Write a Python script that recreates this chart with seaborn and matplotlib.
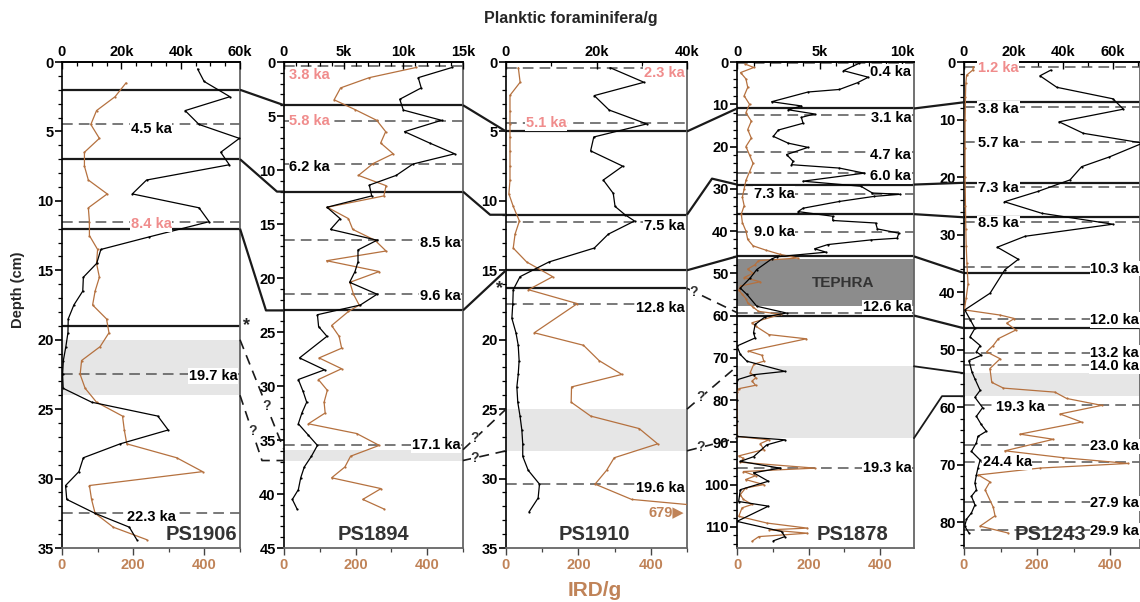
import numpy as np
import pandas as pd
import matplotlib
matplotlib.use("Agg")
import matplotlib.pyplot as plt
from matplotlib.lines import Line2D
from matplotlib.ticker import MultipleLocator, FuncFormatter
import seaborn as sns

# ---- data ----
cores = ['PS1906', 'PS1894', 'PS1910', 'PS1878', 'PS1243']

# planktic foraminifera / g (top axis) and IRD / g (bottom axis), vs depth (cm)
ps1906_foram_depth = [0.5, 1.4, 2.5, 3.5, 4.5, 5.5, 6.5, 7.4, 8.5, 9.5, 10.5, 11.5, 12.6, 13.5, 14.5, 15.5,
                      16.5, 17.5, 18.5, 19.5, 20.5, 21.5, 22.5, 23.5, 24.5, 25.5, 26.5, 27.5, 28.5, 29.5,
                      30.5, 31.5, 32.5, 33.5, 34.4]
ps1906_foram = [45700, 47900, 56600, 41500, 46200, 59800, 53500, 56400, 28500, 23700, 46200, 49600, 29300,
                13100, 11700, 7200, 7000, 4000, 2100, 2000, 1300, 450, 200, 400, 10000, 32300, 35800, 19600,
                7200, 5700, 1200, 1600, 11100, 22700, 25200]
ps1906_ird_depth = [1.5, 2.5, 3.5, 4.5, 5.5, 6.5, 7.5, 8.5, 9.5, 10.5, 11.5, 12.5, 13.5, 14.5, 15.5, 16.5,
                    17.5, 18.5, 19.5, 20.5, 21.5, 22.5, 23.5, 24.5, 25.5, 26.5, 27.5, 28.5, 29.5, 30.5,
                    31.5, 32.5, 33.5, 34.4]
ps1906_ird = [180, 149, 97, 81, 105, 63, 63, 74, 127, 74, 77, 77, 100, 97, 105, 93, 86, 125, 132, 107, 55,
              51, 65, 97, 170, 175, 182, 322, 395, 77, 83, 93, 144, 238]

ps1894_foram_depth = [0.5, 1.45, 2.4, 3.45, 4.45, 5.4, 6.45, 7.5, 8.5, 9.45, 10.5, 11.4, 12.4, 13.45, 14.5,
                      15.5, 16.5, 17.4, 18.5, 19.4, 20.4, 21.5, 22.5, 23.4, 24.5, 25.4, 27.4, 28.5, 29.4,
                      30.5, 31.5, 32.5, 33.5, 34.5, 35.5, 36.5, 37.5, 38.5, 39.6, 40.5, 41.4]
ps1894_foram = [14100, 11250, 11500, 9700, 10000, 13200, 10100, 12200, 14300, 10800, 9400, 7150, 7350, 3600,
                4700, 3900, 7800, 6200, 6200, 5950, 5500, 7800, 6400, 2800, 2900, 3600, 1300, 3400, 1200,
                1600, 1900, 1500, 1200, 2000, 2800, 2300, 1700, 1400, 1200, 700, 1100]
ps1894_ird_depth = [0.5, 1.45, 2.4, 3.5, 4.4, 5.4, 6.45, 7.5, 8.5, 9.4, 10.5, 11.45, 12.4, 13.45, 14.5, 15.5,
                    16.5, 17.5, 18.4, 19.4, 20.4, 21.5, 22.5, 23.1, 24.4, 25.4, 26.5, 27.4, 28.4, 29.4,
                    30.4, 31.5, 32.5, 33.5, 34.4, 35.5, 36.5, 37.5, 38.5, 39.5, 40.5, 41.4]
ps1894_ird = [370, 238, 158, 140, 198, 259, 284, 270, 305, 249, 208, 285, 279, 121, 180, 192, 254, 285, 119,
              266, 184, 194, 210, 180, 133, 154, 161, 98, 161, 96, 121, 112, 115, 68, 203, 266, 186, 170,
              133, 271, 220, 280]

ps1910_foram_depth = [0.41, 1.46, 2.42, 3.46, 4.46, 5.4, 6.4, 7.5, 8.5, 9.46, 10.4, 11.0, 11.45, 12.4, 13.4,
                      14.4, 15.46, 16.4, 17.4, 18.46, 19.5, 20.4, 21.5, 22.5, 23.4, 24.5, 25.5, 26.5, 27.5,
                      28.4, 29.4, 30.4, 31.4, 32.4]
ps1910_foram = [23000, 30500, 19500, 22800, 31100, 19400, 18700, 25800, 21500, 23700, 24100, 26300, 28400,
                22600, 19500, 9500, 3100, 1600, 1500, 1300, 2200, 2700, 2900, 2700, 2400, 2600, 3100, 3500,
                3700, 3700, 4900, 7400, 7100, 5100]
ps1910_ird_depth = [0.4, 1.46, 2.4, 3.5, 4.46, 5.4, 6.4, 7.5, 8.5, 9.5, 10.4, 11.45, 12.4, 13.4, 14.4, 15.46,
                    16.4, 17.4, 19.5, 20.4, 21.5, 22.5, 23.4, 24.5, 25.5, 26.4, 27.5, 28.5, 29.4, 30.4,
                    31.5, 32.3]
ps1910_ird = [34, 39, 11, 11, 11, 11, 11, 11, 11, 8, 20, 37, 25, 20, 57, 129, 62, 197, 78, 214, 257, 320,
              181, 180, 234, 368, 419, 299, 278, 246, 347, 679]

ps1878_foram_depth = [0.3, 2.05, 3.6, 4.9, 6.5, 7.1, 9.4, 10.4, 11.3, 12.3, 13.1, 14.5, 16.1, 17.6, 19.2,
                      20.2, 21.9, 23.5, 24.3, 25.1, 26.3, 28.2, 29.4, 31.0, 31.3, 31.8, 33.0, 34.6, 35.4,
                      36.5, 37.5, 38.1, 39.5, 40.5, 41.7, 42.1, 43.2, 44.2, 45.0, 46.1, 46.6, 49.1, 51.1,
                      53.5, 55.0, 57.8, 59.4, 60.3, 62.1, 64.1, 65.3, 67.2, 69.2, 70.8, 73.2, 74.0, 75.2,
                      80.0, 85.0, 88.6, 89.4, 90.6, 93.4, 94.5, 96.1, 97.2, 99.2, 101.2, 104.0, 105.1,
                      108.7, 111.1, 112.3, 113.3]
ps1878_foram = [7400, 6450, 7950, 7300, 6200, 4300, 2100, 3900, 3100, 4700, 3900, 4000, 2500, 2200, 3100,
                4300, 3000, 3400, 3300, 6200, 7700, 4000, 7500, 8200, 9900, 8300, 6200, 4000, 3700, 5800,
                5800, 8400, 8500, 9800, 9700, 8100, 5500, 4700, 5400, 2400, 2100, 1200, 800, 200, 600,
                1200, 3000, 1700, 1100, 1000, 1100, 0, 200, 600, 2900, 1000, 0, 0, 0, 0, 2900, 1800,
                1000, 200, 2600, 1000, 1900, 200, 100, 1900, 0, 2700, 2900, 2200]
ps1878_ird_depth = [0.5, 1.3, 2.5, 4, 6, 8, 10, 12, 14, 16, 18, 20, 22, 24, 26, 28, 30, 32, 34, 36, 38, 40,
                    42, 43.5, 44.5, 45.5, 46.4, 47, 48, 49, 50, 51, 52, 53, 54, 55, 56, 57, 58, 59, 59.7,
                    61.7, 62.5, 64.5, 65.5, 68.4, 69.4, 70.8, 71.5, 73.5, 74.7, 75.5, 76.5, 77.3, 78.2,
                    88.6, 89.4, 90.3, 91.7, 93.2, 93.8, 94.7, 96.1, 96.9, 97.9, 98.8, 100.0, 100.8, 102.4,
                    103.5, 104.7, 105.5, 107.5, 109.1, 110.3, 110.7, 111.5, 112.3, 113.4]
ps1878_ird = [23, 47, 10, 25, 30, 20, 35, 25, 40, 30, 40, 25, 35, 45, 35, 25, 20, 15, 20, 12, 15, 25, 30,
              45, 80, 120, 170, 60, 50, 30, 45, 20, 65, 10, 5, 15, 25, 30, 45, 60, 123, 42, 52, 89, 194,
              32, 70, 75, 47, 37, 53, 42, 52, 5, 0, 0, 89, 65, 75, 5, 18, 9, 218, 18, 52, 24, 75, 24, 9,
              18, 42, 14, 5, 84, 197, 90, 197, 61, 42]

ps1243_foram_depth = [1.4, 2.4, 4.4, 6.4, 8.2, 10.4, 12.4, 14.1, 16.5, 18.2, 20.5, 22.5, 24.3, 26.3, 28.2,
                      30.3, 32.2, 34.3, 36.1, 40.2, 43.1, 44.8, 46.3, 47.8, 49.3, 50.4, 51.0, 51.9, 53.9,
                      55.1, 57.1, 58.3, 60.1, 61.6, 63.0, 64.2, 65.1, 66.2, 67.7, 69.2, 70.6, 71.8, 73.2,
                      74.4, 75.5, 77.0, 78.4, 79.5, 80.7, 81.9]
ps1243_foram = [35000, 30600, 37400, 60000, 64200, 38300, 48100, 72000, 58600, 47400, 42700, 29800, 16300,
                31300, 60000, 24600, 13400, 21900, 16500, 10500, 300, 2500, 4400, 2400, 6500, 5000, 7000,
                2000, 3200, 4400, 6500, 4400, 7500, 5000, 6900, 9000, 5600, 5000, 3000, 6500, 5600, 5000,
                4400, 5000, 3000, 4400, 3000, 1000, 300, 2000]
ps1243_ird_depth = [0.8, 1.4, 2.3, 3.7, 6, 10, 15, 20, 25, 29, 32, 35, 38.6, 41, 43.1, 44.0, 44.6, 45.4,
                    46.6, 48.1, 49.3, 50.4, 51.6, 53.3, 55.7, 56.7, 57.4, 58.5, 59.7, 61.2, 62.6, 64.7,
                    65.6, 67.6, 68.8, 69.8, 70.6, 71.8, 73.0, 74.4, 77.4, 78.9, 80.7, 81.9]
ps1243_ird = [26, 24, 7, 5, 4, 3, 3, 3, 4, 5, 6, 8, 11, 6, 1, 99, 138, 117, 142, 94, 80, 62, 99, 71, 76,
              108, 249, 281, 377, 263, 322, 153, 245, 112, 272, 450, 208, 39, 71, 58, 80, 85, 44, 121]

foram_depths = [ps1906_foram_depth, ps1894_foram_depth, ps1910_foram_depth, ps1878_foram_depth, ps1243_foram_depth]
foram_vals = [ps1906_foram, ps1894_foram, ps1910_foram, ps1878_foram, ps1243_foram]
ird_depths = [ps1906_ird_depth, ps1894_ird_depth, ps1910_ird_depth, ps1878_ird_depth, ps1243_ird_depth]
ird_vals = [ps1906_ird, ps1894_ird, ps1910_ird, ps1878_ird, ps1243_ird]

# age tie points (depth, label)
age_depths = [[4.5, 11.5, 22.5, 32.5],
              [0.4, 5.45, 9.45, 16.5, 21.5, 35.5],
              [0.4, 4.4, 11.5, 17.4, 30.4],
              [0.3, 12.5, 21.4, 26.3, 31.2, 40.2, 59.4, 96.0],
              [0.8, 7.9, 13.9, 21.7, 27.8, 35.7, 44.6, 50.6, 52.6, 59.7, 66.6, 69.6, 76.5, 81.3]]
age_labels = [['4.5 ka', '8.4 ka', '19.7 ka', '22.3 ka'],
              ['3.8 ka', '5.8 ka', '6.2 ka', '8.5 ka', '9.6 ka', '17.1 ka'],
              ['2.3 ka', '5.1 ka', '7.5 ka', '12.8 ka', '19.6 ka'],
              ['0.4 ka', '3.1 ka', '4.7 ka', '6.0 ka', '7.3 ka', '9.0 ka', '12.6 ka', '19.3 ka'],
              ['1.2 ka', '3.8 ka', '5.7 ka', '7.3 ka', '8.5 ka', '10.3 ka', '12.0 ka', '13.2 ka', '14.0 ka',
               '19.3 ka', '23.0 ka', '24.4 ka', '27.9 ka', '29.9 ka']]

# grey intervals (depth from, to)
grey_bands = [[(20, 24)], [(35.9, 36.9)], [(25, 28)], [(72, 89)], [(54.1, 58.1)]]
tephra = (46.6, 57.8)

# correlation lines: chains of (core index, depth)
tie_chains = [[(0, 2), (1, 4), (2, 5), (3, 11), (4, 7)],
              [(0, 7), (1, 12), (2, 11), (3, 29), (4, 21)],
              [(0, 12), (1, 23), (2, 15), (3, 46), (4, 36.7)],
              [(0, 19)], [(2, 16.3)],
              [(3, 36), (4, 27)],
              [(3, 60), (4, 46.3)]]
band_links = [[(3, 72), (4, 54.1)], [(3, 89), (4, 58.1)]]
uncertain_links = [[(0, 20), (1, 35.9)], [(0, 24), (1, 36.9)],
                   [(1, 35.9), (2, 25)], [(1, 36.9), (2, 28)],
                   [(2, 16.3), (3, 59.3)], [(2, 25), (3, 72)], [(2, 28), (3, 89)]]

# ---- style / layout ----
sns.set_theme(style="white")
plt.rcParams['font.family'] = ['Liberation Sans', 'DejaVu Sans']
plt.rcParams['font.weight'] = 'bold'
plt.rcParams['axes.labelweight'] = 'bold'

BROWN = '#b5713f'
BROWN_TXT = '#c08358'
SALMON = '#f08c8c'
GRID = '#555555'

W, H = 1140, 602
panel_px = [(62, 240), (284, 463), (506, 687), (737, 914), (964, 1140)]
top_px, bot_px = 62, 548
depth_max = [35, 45, 35, 115, 84.5]
foram_max = [60000, 15000, 40000, 10720, 70900]
ird_max = [500, 500, 500, 495, 482]
foram_major = [20000, 5000, 20000, 5000, 20000]
foram_minor = [5000, 1000, 10000, 1000, 10000]
depth_major = [5, 5, 5, 10, 10]
depth_minor = [1, 1, 1, 2, 2]

salmon_ages = {0: ['8.4 ka'], 1: ['3.8 ka', '5.8 ka'], 2: ['2.3 ka', '5.1 ka'], 4: ['1.2 ka']}
# label placement: (x in axes fraction, ha, vertical offset in points)
age_place = [[(0.5, 'center', -3), (0.5, 'center', -2), (0.985, 'right', -1), (0.5, 'center', -3)],
             [(0.03, 'left', -6), (0.03, 'left', 0), (0.03, 'left', -2), (0.985, 'right', -2),
              (0.985, 'right', -1), (0.985, 'right', 0)],
             [(0.985, 'right', -4), (0.22, 'center', 0), (0.985, 'right', -3), (0.985, 'right', -3),
              (0.985, 'right', -3)],
             [(0.985, 'right', -6), (0.985, 'right', -2), (0.985, 'right', -2), (0.985, 'right', -2),
              (0.21, 'center', 0), (0.21, 'center', 0), (0.985, 'right', 4), (0.985, 'right', 0)],
             [(0.08, 'left', -1), (0.08, 'left', -1), (0.08, 'left', -1), (0.08, 'left', -1),
              (0.08, 'left', -1), (0.995, 'right', -1), (0.995, 'right', -1), (0.995, 'right', 0),
              (0.995, 'right', -1), (0.32, 'center', -1), (0.995, 'right', -1), (0.245, 'center', 0),
              (0.995, 'right', -1), (0.995, 'right', -1)]]
name_place = [(0.985, 'right'), (0.5, 'center'), (0.49, 'center'), (0.65, 'center'), (0.49, 'center')]
# bends in connectors: (left core, left depth) -> (fraction of gap, depth in right core)
bends = {(0, 7): (0.84, 12), (0, 12): (0.59, 23), (1, 12): (0.63, 11), (2, 11): (0.5, 27.6),
         (3, 89): (0.56, 58.1), (0, 24): (0.5, 36.9)}
# where the '?' sits along the first segment of each uncertain link
q_frac = [0.6, 0.55, 0.28, 0.28, 0.14, 0.28, 0.28]


def kfmt(v, _):
    return '0' if v == 0 else f'{v / 1000:g}k'


fig = plt.figure(figsize=(W / 100, H / 100), dpi=100)
axes = []
for i, core in enumerate(cores):
    x0, x1 = panel_px[i]
    ax = fig.add_axes([x0 / W, 1 - bot_px / H, (x1 - x0) / W, (bot_px - top_px) / H])
    axt = ax.twiny()

    for d0, d1 in grey_bands[i]:
        ax.axhspan(d0, d1, color='#e6e6e6', lw=0, zorder=0)
    if core == 'PS1878':
        ax.axhspan(*tephra, color='#8c8c8c', lw=0, zorder=0.5)
        ax.text(0.6, np.mean(tephra), 'TEPHRA', transform=ax.get_yaxis_transform(),
                ha='center', va='center', fontsize=11, color='#333333', zorder=1)

    ird = pd.DataFrame({'depth': ird_depths[i], 'ird': ird_vals[i]})
    sns.lineplot(data=ird, x='ird', y='depth', ax=ax, orient='y', sort=False, estimator=None,
                 color=BROWN, lw=0.9, marker='o', markersize=1.6, markeredgewidth=0, zorder=3)
    fg = pd.DataFrame({'depth': foram_depths[i], 'foram': foram_vals[i]})
    sns.lineplot(data=fg, x='foram', y='depth', ax=axt, orient='y', sort=False, estimator=None,
                 color='black', lw=0.9, marker='o', markersize=1.6, markeredgewidth=0, zorder=3)

    ax.set_xlim(0, ird_max[i])
    axt.set_xlim(0, foram_max[i])
    ax.set_ylim(depth_max[i], 0)
    ax.set_xlabel('')
    ax.set_ylabel('')
    axt.set_xlabel('')

    ax.yaxis.set_major_locator(MultipleLocator(depth_major[i]))
    ax.yaxis.set_minor_locator(MultipleLocator(depth_minor[i]))
    ax.xaxis.set_major_locator(MultipleLocator(200))
    ax.xaxis.set_minor_locator(MultipleLocator(100))
    axt.xaxis.set_major_locator(MultipleLocator(foram_major[i]))
    axt.xaxis.set_minor_locator(MultipleLocator(foram_minor[i]))
    axt.xaxis.set_major_formatter(FuncFormatter(kfmt))

    ax.tick_params(axis='y', which='both', left=True, right=False, direction='out',
                   labelsize=10.5, pad=1, colors='black')
    ax.tick_params(axis='y', which='major', length=5, width=1.2)
    ax.tick_params(axis='y', which='minor', length=3, width=0.9)
    ax.tick_params(axis='x', which='both', bottom=True, top=False, direction='out',
                   labelsize=10.5, pad=2, labelcolor=BROWN_TXT, color='#444444')
    ax.tick_params(axis='x', which='major', length=5, width=1.0)
    ax.tick_params(axis='x', which='minor', length=3, width=0.9)
    axt.tick_params(axis='x', which='both', top=True, bottom=False, direction='in',
                    labelsize=10.5, pad=2, colors='black')
    axt.tick_params(axis='x', which='major', length=5, width=1.0)
    axt.tick_params(axis='x', which='minor', length=3, width=0.9)

    for s in ['left', 'top']:
        ax.spines[s].set_color('black')
        ax.spines[s].set_linewidth(1.2)
    for s in ['right', 'bottom']:
        ax.spines[s].set_color('#666666')
        ax.spines[s].set_linewidth(1.3)
    for s in ['left', 'right', 'bottom']:
        axt.spines[s].set_visible(False)
    axt.spines['top'].set_color('black')
    axt.spines['top'].set_linewidth(1.2)

    # age tie points
    for d, lab, (xp, ha, dy) in zip(age_depths[i], age_labels[i], age_place[i]):
        ax.axhline(d, color=GRID, lw=1.1, dashes=(7, 4), zorder=1)
        col = SALMON if lab in salmon_ages.get(i, []) else 'black'
        axt.annotate(lab, xy=(xp, d), xycoords=('axes fraction', 'data'), xytext=(0, dy),
                     textcoords='offset points', ha=ha, va='center', fontsize=10.5, color=col,
                     zorder=10, bbox=dict(boxstyle='square,pad=0.05', fc='white', ec='none'))

    xp, ha = name_place[i]
    axt.text(xp, 0.008, core, transform=axt.transAxes, ha=ha, va='bottom', fontsize=14.5,
             color='#333333', zorder=10)
    axes.append(ax)

# IRD value off the scale in PS1910
axes[2].text(0.985, 32.4, '679\u25B6', transform=axes[2].get_yaxis_transform(), ha='right',
             va='center', fontsize=10.5, color=BROWN_TXT, zorder=10)


def fpt(i, side, depth):
    ax = axes[i]
    xd = ax.transAxes.transform((side, 0))[0]
    yd = ax.transData.transform((0, depth))[1]
    return fig.transFigure.inverted().transform((xd, yd))


def link(i, d0, j, d1, **kw):
    p0 = fpt(i, 1, d0)
    p1 = fpt(j, 0, d1)
    xs, ys = [p0[0]], [p0[1]]
    if (i, d0) in bends:
        frac, db = bends[(i, d0)]
        pb = fpt(j, 0, db)
        xs.append(p0[0] + frac * (p1[0] - p0[0]))
        ys.append(pb[1])
    xs.append(p1[0])
    ys.append(p1[1])
    fig.add_artist(Line2D(xs, ys, transform=fig.transFigure, **kw))
    return xs, ys


solid = dict(color='#1a1a1a', lw=1.6, solid_capstyle='butt')
for chain in tie_chains:
    for i, d in chain:
        axes[i].axhline(d, color='#1a1a1a', lw=1.6, zorder=2)
    for (i, d0), (j, d1) in zip(chain[:-1], chain[1:]):
        link(i, d0, j, d1, **solid)
for (i, d0), (j, d1) in band_links:
    link(i, d0, j, d1, color='#1a1a1a', lw=1.3)
for ((i, d0), (j, d1)), f in zip(uncertain_links, q_frac):
    xs, ys = link(i, d0, j, d1, color='#1a1a1a', lw=1.2, dashes=(6, 4))
    qx = xs[0] + f * (xs[1] - xs[0])
    qy = ys[0] + f * (ys[1] - ys[0])
    fig.text(qx, qy, '?', ha='center', va='center', fontsize=10, color='#333333',
             bbox=dict(boxstyle='square,pad=0.0', fc='white', ec='none'))

# asterisks at the uncertain levels
p = fpt(0, 1, 19)
fig.text(p[0] + 3 / W, p[1], '*', ha='left', va='center', fontsize=13)
p = fpt(2, 0, 16.3)
fig.text(p[0] - 3 / W, p[1], '*', ha='right', va='center', fontsize=13)

fig.text(571 / W, 1 - 18 / H, 'Planktic foraminifera/g', ha='center', va='center', fontsize=11.5)
fig.text(595 / W, 1 - 590 / H, 'IRD/g', ha='center', va='center', fontsize=15, color=BROWN_TXT)
fig.text(18 / W, 1 - 290 / H, 'Depth (cm)', ha='center', va='center', rotation=90, fontsize=10.5)

fig.savefig('out.png', dpi=100)
